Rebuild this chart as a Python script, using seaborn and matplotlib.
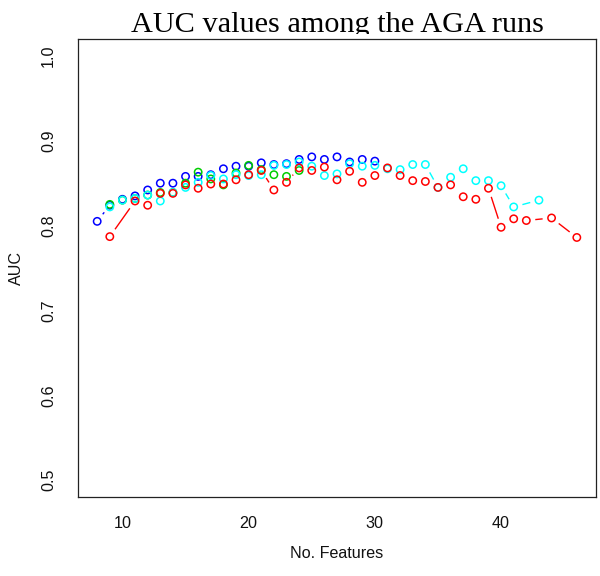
import numpy as np
import pandas as pd
import matplotlib
matplotlib.use("Agg")
import matplotlib.pyplot as plt
import seaborn as sns
from matplotlib.transforms import Bbox

# ---------------- data ----------------
blue_x = list(range(8, 31))
blue_auc = [0.805, 0.824, 0.831, 0.835, 0.842, 0.850, 0.850, 0.858, 0.858, 0.860,
            0.867, 0.870, 0.870, 0.874, 0.872, 0.873, 0.878, 0.881, 0.878, 0.881,
            0.875, 0.878, 0.876]

green_x = list(range(9, 25))
green_auc = [0.825, 0.830, 0.832, 0.836, 0.839, 0.839, 0.850, 0.863, 0.855, 0.848,
             0.862, 0.871, 0.866, 0.860, 0.858, 0.865]

cyan_x = list(range(9, 42)) + [43]
cyan_auc = [0.822, 0.830, 0.832, 0.836, 0.829, 0.839, 0.845, 0.851, 0.859, 0.855,
            0.860, 0.859, 0.860, 0.871, 0.872, 0.875, 0.870, 0.859, 0.861, 0.873,
            0.870, 0.871, 0.867, 0.866, 0.872, 0.872, 0.845, 0.857, 0.867, 0.853,
            0.853, 0.847, 0.822, 0.830]

red_x = [9] + list(range(11, 43)) + [44, 46]
red_auc = [0.787, 0.829, 0.824, 0.838, 0.838, 0.848, 0.844, 0.849, 0.849, 0.854,
           0.860, 0.865, 0.842, 0.851, 0.868, 0.865, 0.869, 0.854, 0.864, 0.851,
           0.859, 0.868, 0.859, 0.853, 0.852, 0.845, 0.848, 0.834, 0.831, 0.844,
           0.798, 0.808, 0.806, 0.809, 0.786]

runs = ["run 1", "run 2", "run 3", "run 4"]
run_colors = ["#0000FF", "#00CD00", "#00FFFF", "#FF0000"]
xs_all = [blue_x, green_x, cyan_x, red_x]
ys_all = [blue_auc, green_auc, cyan_auc, red_auc]

x_ticks = [10, 20, 30, 40]
y_ticks = [0.5, 0.6, 0.7, 0.8, 0.9, 1.0]

title = "AUC values among the AGA runs"
x_label = "No. Features"
y_label = "AUC"

# ---------------- figure ----------------
sns.set_style("white")
plt.rcParams["font.family"] = ["Liberation Sans", "DejaVu Sans"]

W, H = 600, 576
fig = plt.figure(figsize=(W / 100, H / 100), dpi=100)
L, R, T, B = 78, 596, 39, 497
ax = fig.add_axes([L / W, 1 - B / H, (R - L) / W, (B - T) / H])
ax.set_xlim(6.48, 47.52)
ax.set_ylim(0.48, 1.02)

GAP = 9.0  # px gap around each point (R type="b")


def gapped_lines(ax, xs, ys, color):
    pts = ax.transData.transform(np.column_stack([xs, ys]))
    inv = ax.transData.inverted()
    for p0, p1 in zip(pts[:-1], pts[1:]):
        d = p1 - p0
        length = np.hypot(*d)
        if length > 2 * GAP:
            u = d / length
            seg = inv.transform(np.array([p0 + u * GAP, p1 - u * GAP]))
            ax.plot(seg[:, 0], seg[:, 1], color=color, lw=1.0,
                    solid_capstyle="butt", zorder=2)


for run, col, xs, ys in zip(runs, run_colors, xs_all, ys_all):
    df = pd.DataFrame({"features": xs, "auc": ys})
    gapped_lines(ax, xs, ys, col)
    sns.scatterplot(data=df, x="features", y="auc", ax=ax, marker="o",
                    s=28, facecolor="none", edgecolor=col, linewidth=1.1,
                    zorder=3, legend=False)

ax.set_xlim(6.48, 47.52)
ax.set_ylim(0.48, 1.02)
ax.set_xticks(x_ticks)
ax.set_yticks(y_ticks)
ax.set_xticklabels([str(t) for t in x_ticks])
ax.set_yticklabels([f"{t:.1f}" for t in y_ticks])

for s in ax.spines.values():
    s.set_visible(True)
    s.set_color("#222222")
    s.set_linewidth(0.9)

ax.tick_params(axis="both", direction="out", length=7.5, width=0.9,
               color="#222222", labelsize=11.6, labelcolor="#111111")
ax.tick_params(axis="x", pad=6)
ax.tick_params(axis="y", pad=8.2)
for lab in ax.get_yticklabels():
    lab.set_rotation(90)
    lab.set_va("center")
    lab.set_ha("right")

ax.set_xlabel(x_label, fontsize=11.6, color="#111111", va="center", ha="center")
ax.xaxis.set_label_coords(0.5, (B - 553) / (B - T))
ax.set_ylabel(y_label, fontsize=11.6, color="#111111", va="center", ha="center")
ax.yaxis.set_label_coords((16 - L) / (R - L), 0.5)

t = fig.text((L + R) / 2 / W, 1 - 32 / H, title, family=["Liberation Serif", "DejaVu Serif"],
             fontsize=21.8, ha="center", va="baseline", color="black")
t.set_clip_box(Bbox.from_extents(0, (1 - 34 / H) * H, W, H))
t.set_clip_on(True)

fig.savefig("out.png", dpi=100, facecolor="white")
